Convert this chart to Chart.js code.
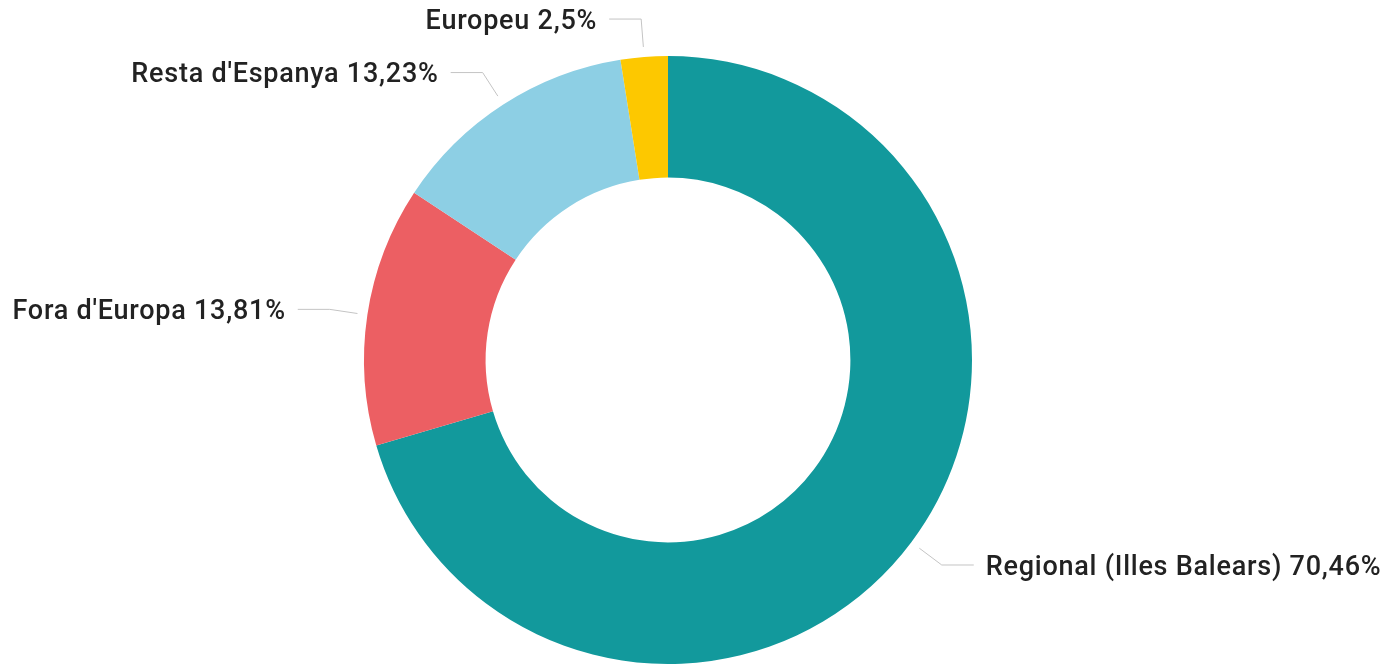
<!DOCTYPE html>
<html>
<head>
<meta charset="utf-8">
<script src="https://cdn.jsdelivr.net/npm/chart.js@4/dist/chart.umd.min.js"></script>
<style>
  html, body { margin: 0; padding: 0; background: #fff; }
  #wrap { width: 1398px; height: 664px; }
</style>
</head>
<body>
<div id="wrap"><canvas id="myChart" width="1398" height="664"></canvas></div>
<script>
const categories = ['Regional (Illes Balears)', "Fora d'Europa", "Resta d'Espanya", 'Europeu'];
const shares = [70.46, 13.81, 13.23, 2.5];
const shareLabels = ['70,46%', '13,81%', '13,23%', '2,5%'];
const sliceColors = ['#12999c', '#ec5f63', '#8dcfe4', '#fdc800'];

// leader lines + labels outside the ring
const outsideLabels = {
  id: 'outsideLabels',
  afterDatasetsDraw: function (chart) {
    const ctx = chart.ctx;
    const meta = chart.getDatasetMeta(0);
    ctx.save();
    ctx.font = '500 27px Roboto, "DejaVu Sans", sans-serif';
    ctx.letterSpacing = '0.75px';
    ctx.textBaseline = 'middle';
    meta.data.forEach(function (arc, i) {
      const mid = (arc.startAngle + arc.endAngle) / 2;
      const r0 = arc.outerRadius + 10;
      const r1 = arc.outerRadius + 38;
      const x0 = arc.x + Math.cos(mid) * r0;
      const y0 = arc.y + Math.sin(mid) * r0;
      const x1 = arc.x + Math.cos(mid) * r1;
      const y1 = arc.y + Math.sin(mid) * r1;
      const right = Math.cos(mid) >= 0;
      const x2 = x1 + (right ? 32 : -32);

      ctx.strokeStyle = '#c4c4c4';
      ctx.lineWidth = 1;
      ctx.beginPath();
      ctx.moveTo(x0, y0);
      ctx.lineTo(x1, y1);
      ctx.lineTo(x2, y1);
      ctx.stroke();

      ctx.fillStyle = '#222222';
      ctx.textAlign = right ? 'left' : 'right';
      ctx.fillText(categories[i] + ' ' + shareLabels[i], x2 + (right ? 12 : -12), y1 + 3);
    });
    ctx.restore();
  }
};

new Chart(document.getElementById('myChart').getContext('2d'), {
  type: 'doughnut',
  data: {
    labels: categories,
    datasets: [{
      data: shares,
      backgroundColor: sliceColors,
      borderWidth: 0,
    }]
  },
  options: {
    responsive: false,
    animation: false,
    cutout: '60%',
    layout: { padding: { top: 56, bottom: 0, left: 0, right: 62 } },
    plugins: {
      legend: { display: false },
      tooltip: { enabled: false },
    },
  },
  plugins: [outsideLabels],
});
</script>
</body>
</html>
